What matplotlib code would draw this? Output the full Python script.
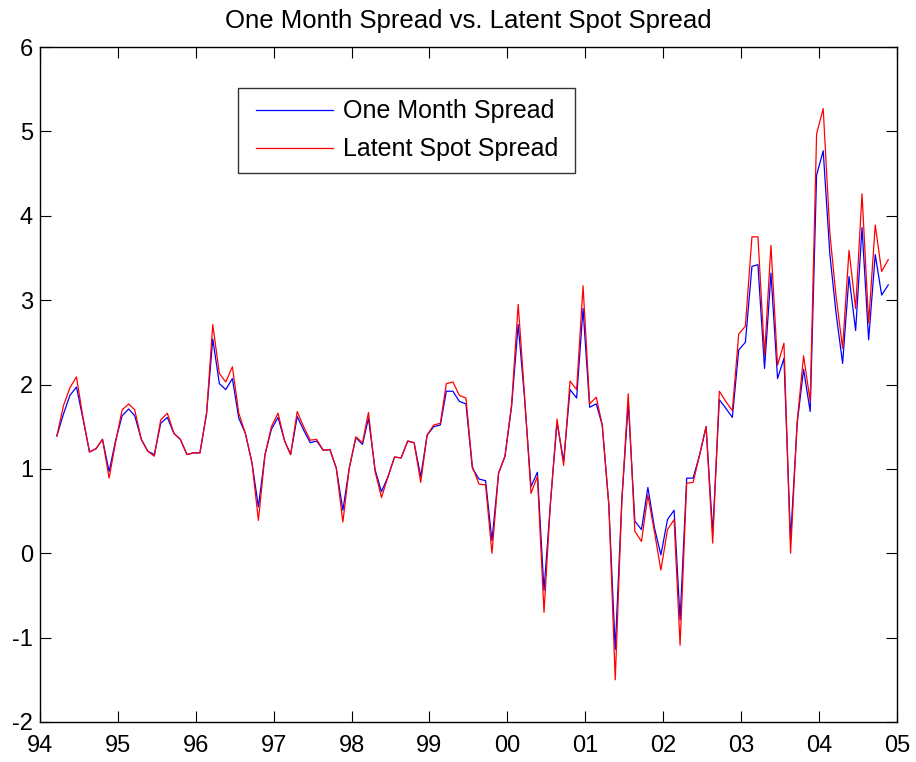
import numpy as np
import pandas as pd
import matplotlib
matplotlib.use("Agg")
import matplotlib.pyplot as plt
import matplotlib.dates as mdates
from matplotlib.legend_handler import HandlerLine2D

plt.rcParams['font.family'] = ['Liberation Sans', 'DejaVu Sans']
plt.rcParams['axes.unicode_minus'] = False

# monthly observations, Mar 1994 - Nov 2004
one_month = [1.39, 1.65, 1.87, 1.97, 1.60, 1.20, 1.24, 1.35, 0.97, 1.33,
             1.63, 1.71, 1.63, 1.35, 1.21, 1.17, 1.54, 1.61, 1.42, 1.35,
             1.17, 1.19, 1.19, 1.66, 2.54, 2.01, 1.94, 2.07, 1.60, 1.42,
             1.07, 0.55, 1.17, 1.47, 1.61, 1.33, 1.17, 1.62, 1.46, 1.31,
             1.33, 1.22, 1.23, 1.01, 0.51, 1.01, 1.37, 1.29, 1.60, 0.99,
             0.73, 0.91, 1.14, 1.13, 1.33, 1.31, 0.91, 1.40, 1.50, 1.52,
             1.92, 1.92, 1.80, 1.77, 1.01, 0.88, 0.86, 0.15, 0.95, 1.15,
             1.74, 2.71, 1.86, 0.79, 0.96, -0.44, 0.59, 1.55, 1.09, 1.94,
             1.84, 2.90, 1.73, 1.77, 1.52, 0.57, -1.14, 0.63, 1.78, 0.38,
             0.28, 0.78, 0.30, -0.02, 0.40, 0.51, -0.79, 0.89, 0.89, 1.17,
             1.50, 0.24, 1.82, 1.72, 1.61, 2.41, 2.50, 3.40, 3.42, 2.19,
             3.32, 2.07, 2.31, 0.16, 1.54, 2.18, 1.68, 4.48, 4.77, 3.55,
             2.85, 2.25, 3.28, 2.64, 3.86, 2.53, 3.54, 3.06, 3.18]
latent_spot = [1.39, 1.75, 1.96, 2.09, 1.62, 1.20, 1.24, 1.35, 0.89, 1.31,
               1.70, 1.77, 1.70, 1.35, 1.21, 1.15, 1.58, 1.66, 1.42, 1.35,
               1.17, 1.19, 1.19, 1.66, 2.71, 2.13, 2.03, 2.21, 1.66, 1.42,
               1.07, 0.39, 1.17, 1.50, 1.66, 1.33, 1.17, 1.68, 1.50, 1.34,
               1.35, 1.22, 1.23, 1.01, 0.37, 1.01, 1.38, 1.31, 1.67, 0.97,
               0.66, 0.91, 1.14, 1.13, 1.33, 1.31, 0.84, 1.40, 1.52, 1.54,
               2.01, 2.03, 1.87, 1.84, 1.03, 0.82, 0.81, 0.00, 0.95, 1.15,
               1.76, 2.95, 1.90, 0.71, 0.91, -0.70, 0.59, 1.59, 1.04, 2.04,
               1.94, 3.17, 1.77, 1.85, 1.52, 0.57, -1.50, 0.63, 1.89, 0.26,
               0.14, 0.69, 0.25, -0.20, 0.28, 0.40, -1.09, 0.83, 0.84, 1.17,
               1.50, 0.12, 1.92, 1.80, 1.69, 2.60, 2.69, 3.75, 3.75, 2.35,
               3.65, 2.23, 2.49, 0.00, 1.56, 2.34, 1.80, 4.97, 5.27, 3.80,
               3.05, 2.43, 3.59, 2.90, 4.26, 2.73, 3.89, 3.34, 3.48]

dates = pd.date_range('1994-03-01', periods=len(one_month), freq='MS') + pd.Timedelta(days=20)

fig = plt.figure(figsize=(9.16, 7.62), dpi=100)
ax = fig.add_axes([40 / 916, 1 - 722 / 762, 857 / 916, 675 / 762])

l1, = ax.plot(dates, one_month, color='blue', lw=0.9, label='One Month Spread')
l2, = ax.plot(dates, latent_spot, color='red', lw=0.9, label='Latent Spot Spread')

ax.set_xlim(pd.Timestamp('1994-01-01'), pd.Timestamp('2005-01-01'))
ax.set_ylim(-2, 6)
ax.xaxis.set_major_locator(mdates.YearLocator())
ax.xaxis.set_major_formatter(mdates.DateFormatter('%y'))
ax.tick_params(direction='in', length=8, width=0.8, labelsize=17,
               top=True, right=True)
ax.tick_params(axis='x', pad=9)
ax.tick_params(axis='y', pad=5)
for s in ax.spines.values():
    s.set_linewidth(1.0)

ax.set_title('One Month Spread vs. Latent Spot Spread', fontsize=18.5, pad=14)

hmap = {l1: HandlerLine2D(xpad=0.25), l2: HandlerLine2D(xpad=0.25)}
leg = ax.legend(loc='upper left', bbox_to_anchor=(198 / 857, 1 - 41 / 675),
                fontsize=18, fancybox=False, edgecolor='black',
                handlelength=3.35, handletextpad=0.4, borderpad=0.45,
                borderaxespad=0, labelspacing=0.56, handler_map=hmap)
leg.get_frame().set_linewidth(1.0)
for t in leg.get_texts():
    t.set_text(t.get_text() + '\u2009')

fig.savefig('out.png', dpi=100)
